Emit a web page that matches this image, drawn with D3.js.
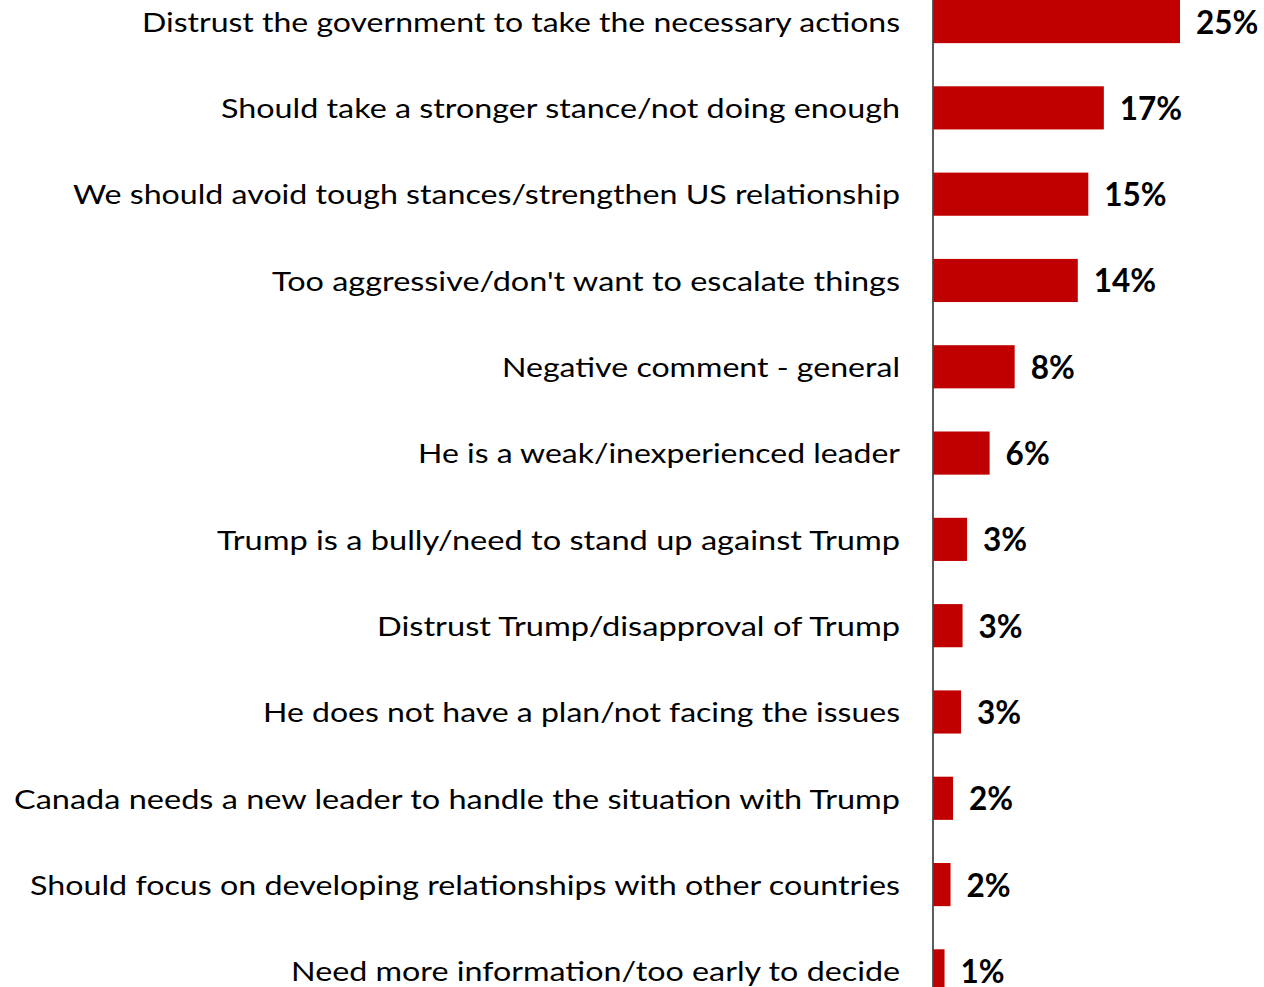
<!DOCTYPE html>
<html>
<head>
<meta charset="utf-8">
<script src="https://cdn.jsdelivr.net/npm/d3@7"></script>
<style>
  html, body { margin: 0; padding: 0; background: #ffffff; }
  svg { display: block; }
</style>
</head>
<body>
<svg id="chart" width="1264" height="987"></svg>
<script>
const categories = [
  "Distrust the government to take the necessary actions",
  "Should take a stronger stance/not doing enough",
  "We should avoid tough stances/strengthen US relationship",
  "Too aggressive/don't want to escalate things",
  "Negative comment - general",
  "He is a weak/inexperienced leader",
  "Trump is a bully/need to stand up against Trump",
  "Distrust Trump/disapproval of Trump",
  "He does not have a plan/not facing the issues",
  "Canada needs a new leader to handle the situation with Trump",
  "Should focus on developing relationships with other countries",
  "Need more information/too early to decide"
];
const values = [24.6, 17.0, 15.45, 14.4, 8.1, 5.6, 3.35, 2.9, 2.75, 1.95, 1.7, 1.1];
const valueLabels = ["25%", "17%", "15%", "14%", "8%", "6%", "3%", "3%", "3%", "2%", "2%", "1%"];
// measured rendered widths of the category labels (px)
const labelWidths = [758, 679, 827, 628, 398, 482, 683, 523, 637, 886, 870, 609];

const svg = d3.select("#chart");
const axisX = 933.5;
const step = 86.3;

const x = d3.scaleLinear().domain([0, 30]).range([axisX, axisX + 300.6]);
const y = d3.scaleBand()
  .domain(categories)
  .range([-step * 0.25, -step * 0.25 + step * categories.length])
  .paddingInner(0.5)
  .paddingOuter(0.25);

const data = categories.map((c, i) => ({ c, v: values[i], lab: valueLabels[i], w: labelWidths[i] }));

svg.append("g").selectAll("rect").data(data).join("rect")
  .attr("x", x(0))
  .attr("y", d => y(d.c))
  .attr("width", d => x(d.v) - x(0))
  .attr("height", y.bandwidth())
  .attr("fill", "#C00000");

svg.append("g").selectAll("text").data(data).join("text")
  .attr("x", 900)
  .attr("y", d => y(d.c) + y.bandwidth() / 2 + 10.3)
  .attr("text-anchor", "end")
  .attr("font-family", "Lato, 'Open Sans', sans-serif")
  .attr("font-size", 27.5)
  .attr("fill", "#000")
  .attr("textLength", d => d.w)
  .attr("lengthAdjust", "spacingAndGlyphs")
  .text(d => d.c);

svg.append("g").selectAll("text").data(data).join("text")
  .attr("x", d => x(d.v) + 16)
  .attr("y", d => y(d.c) + y.bandwidth() / 2 + 12)
  .attr("text-anchor", "start")
  .attr("font-family", "Lato, 'Open Sans', sans-serif")
  .attr("font-weight", "bold")
  .attr("font-size", 31.5)
  .attr("fill", "#000")
  .text(d => d.lab);

// vertical category axis line
const yAxis = d3.axisLeft(y).tickSize(0).tickFormat("");
const ag = svg.append("g").attr("transform", `translate(${axisX - 0.5},0)`).call(yAxis);
ag.select(".domain").remove();
ag.append("line")
  .attr("x1", 0).attr("x2", 0)
  .attr("y1", 0).attr("y2", 987)
  .attr("stroke", "#262626")
  .attr("stroke-width", 1.5);
</script>
</body>
</html>
